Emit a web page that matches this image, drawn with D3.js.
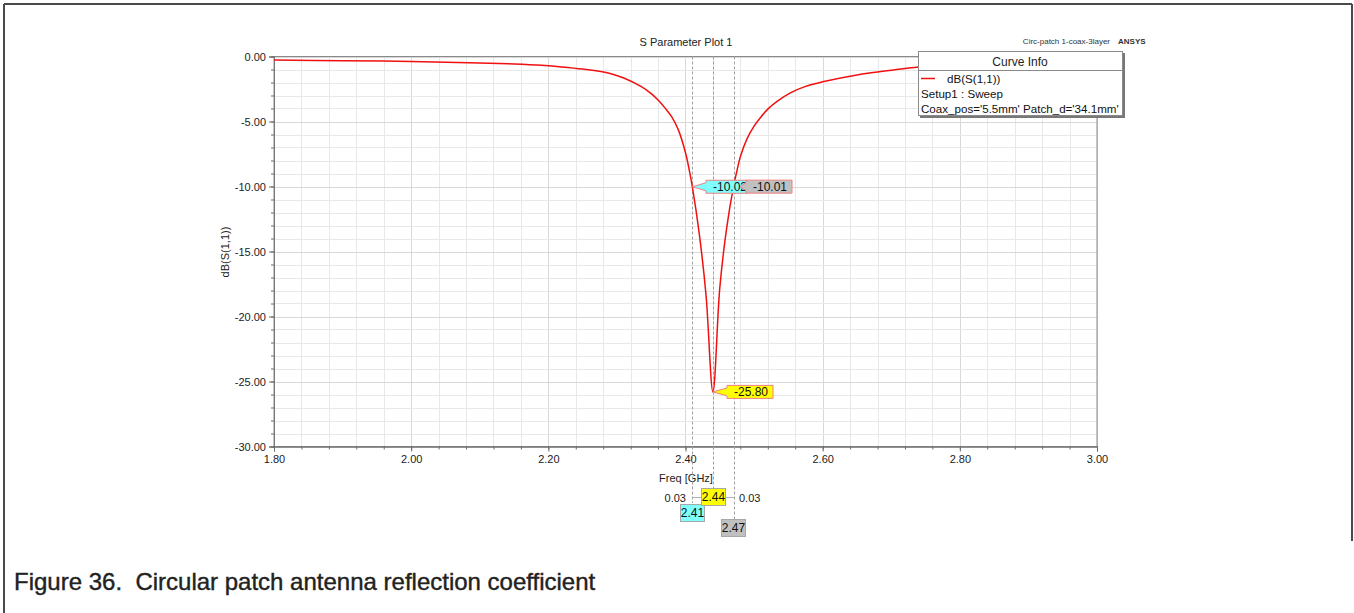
<!DOCTYPE html>
<html>
<head>
<meta charset="utf-8">
<script src="https://cdn.jsdelivr.net/npm/d3@7"></script>
<style>
html,body{margin:0;padding:0;background:#fff;}
svg{display:block;font-family:"Liberation Sans",Arial,sans-serif;}
</style>
</head>
<body>
<svg id="chart" width="1354" height="613"></svg>
<script>
// ---- data ----
const freq = [1.80,1.90,2.00,2.10,2.15,2.19,2.22,2.25,2.29,2.31,2.335,2.35,2.36,2.37,2.38,2.39,2.40,2.405,2.41,2.42,2.43,2.44,2.45,2.46,2.47,2.475,2.48,2.49,2.50,2.51,2.52,2.535,2.553,2.575,2.60,2.65,2.70,2.74,2.80,2.90,3.00];
const s11dB = [-0.27,-0.32,-0.38,-0.50,-0.58,-0.68,-0.80,-0.97,-1.30,-1.65,-2.30,-2.85,-3.35,-3.95,-4.65,-5.70,-7.40,-8.60,-10.02,-13.6,-18.4,-25.80,-17.8,-13.2,-10.01,-8.8,-7.7,-6.3,-5.35,-4.65,-4.05,-3.40,-2.80,-2.30,-1.95,-1.42,-1.05,-0.80,-0.62,-0.50,-0.42];
const xMajorTicks = [1.80,2.00,2.20,2.40,2.60,2.80,3.00];
const yMajorTicks = [0,-5,-10,-15,-20,-25,-30];
const markerFreq = [2.41,2.44,2.47];
const markerVal = [-10.02,-25.80,-10.01];
const markerColors = ["#80ffff","#ffff00","#c0c0c0"];
const deltaLabels = ["0.03","0.03"];
const legendLines = ["dB(S(1,1))","Setup1 : Sweep","Coax_pos='5.5mm' Patch_d='34.1mm'"];

const svg = d3.select("#chart");
const L = 274, R = 1097, T = 56.5, B = 446.5;
const x = d3.scaleLinear().domain([1.8,3.0]).range([L,R]);
const y = d3.scaleLinear().domain([-30,0]).range([B,T]);

// outer frame
svg.append("line").attr("x1",4).attr("x2",4).attr("y1",4).attr("y2",613).attr("stroke","#4a4a4a").attr("stroke-width",2);
svg.append("line").attr("x1",4).attr("x2",1352).attr("y1",4).attr("y2",4).attr("stroke","#4a4a4a").attr("stroke-width",2);
svg.append("line").attr("x1",1352).attr("x2",1352).attr("y1",4).attr("y2",541).attr("stroke","#4a4a4a").attr("stroke-width",2);

// grid
const xMinor = d3.range(0,31).map(i=>1.8+i*0.04);
const yMinor = d3.range(0,31).map(i=>-i);
const g = svg.append("g");
g.selectAll(".vx").data(xMinor).join("line")
  .attr("x1",d=>Math.round(x(d))+0.5).attr("x2",d=>Math.round(x(d))+0.5).attr("y1",T).attr("y2",B)
  .attr("stroke",(d,i)=> i%5===0 ? "#d8d8d8" : "#e8e8e8").attr("stroke-width",1);
g.selectAll(".hy").data(yMinor).join("line")
  .attr("y1",d=>Math.round(y(d))+0.5).attr("y2",d=>Math.round(y(d))+0.5).attr("x1",L).attr("x2",R)
  .attr("stroke",(d,i)=> i%5===0 ? "#d8d8d8" : "#e8e8e8").attr("stroke-width",1);

// plot border
svg.append("rect").attr("x",L).attr("y",T).attr("width",R-L).attr("height",B-T)
  .attr("fill","none").attr("stroke","#8a8a8a").attr("stroke-width",1);

// axes
const fmt = d => d.toFixed(2);
const yAx = svg.append("g").attr("transform",`translate(${L},0)`)
  .call(d3.axisLeft(y).tickValues(yMajorTicks).tickFormat(fmt).tickSize(5).tickPadding(3));
const yAxMinor = svg.append("g").attr("transform",`translate(${L},0)`)
  .call(d3.axisLeft(y).tickValues(yMinor).tickFormat("").tickSize(3));
const xAx = svg.append("g").attr("transform",`translate(0,${B})`)
  .call(d3.axisBottom(x).tickValues(xMajorTicks).tickFormat(fmt).tickSize(5).tickPadding(4));
const xAxMinor = svg.append("g").attr("transform",`translate(0,${B})`)
  .call(d3.axisBottom(x).tickValues(xMinor).tickFormat("").tickSize(3));
[yAx,yAxMinor,xAx,xAxMinor].forEach(a=>{
  a.select(".domain").attr("stroke","#7a7a7a");
  a.selectAll(".tick line").attr("stroke","#6a6a6a");
  a.selectAll("text").attr("font-size","11px").attr("fill","#222").attr("font-family","'Liberation Sans',Arial,sans-serif");
});

// titles
svg.append("text").attr("x",686).attr("y",46).attr("text-anchor","middle").attr("font-size","11px").attr("fill","#222").text("S Parameter Plot 1");
svg.append("text").attr("x",1110).attr("y",44).attr("text-anchor","end").attr("font-size","8px").attr("fill","#333").text("Circ-patch 1-coax-3layer");
svg.append("text").attr("x",1118).attr("y",44).attr("font-size","8px").attr("font-weight","bold").attr("fill","#333").text("ANSYS");
svg.append("text").attr("x",686).attr("y",482).attr("text-anchor","middle").attr("font-size","11px").attr("fill","#222").text("Freq [GHz]");
svg.append("text").attr("transform","translate(229,252) rotate(-90)").attr("text-anchor","middle").attr("font-size","11px").attr("fill","#222").text("dB(S(1,1))");

// marker dashed lines
const dropTo = [503, 488, 519];
svg.selectAll(".mk").data(markerFreq).join("line")
  .attr("x1",d=>Math.round(x(d))+0.5).attr("x2",d=>Math.round(x(d))+0.5)
  .attr("y1",T).attr("y2",(d,i)=>dropTo[i])
  .attr("stroke","#a0a0a0").attr("stroke-width",1).attr("stroke-dasharray","3,2");

// curve
const line = d3.line().x((d,i)=>x(freq[i])).y(d=>y(d)).curve(d3.curveCatmullRom.alpha(0.5));
svg.append("path").datum(s11dB).attr("d",line).attr("fill","none").attr("stroke","#f01010").attr("stroke-width",1.5);

// marker value flags
function flag(tx,ty,bx,w){
  const h=6.5;
  const pts=[[tx,ty],[bx,ty-4],[bx,ty-h],[bx+w,ty-h],[bx+w,ty+h],[bx,ty+h],[bx,ty+4]];
  return "M"+pts.map(p=>p.join(",")).join("L")+"Z";
}
const flagBox = [[706,41],[727,46],[746,46]];
const flagOrder = [0,2,1];
flagOrder.forEach(i=>{
  const tx = x(markerFreq[i]), ty = y(markerVal[i]);
  const tipX = i===2 ? 740 : tx;
  svg.append("path").attr("d",flag(tipX,ty,flagBox[i][0],flagBox[i][1]))
    .attr("fill",markerColors[i]).attr("stroke","#f08080").attr("stroke-width",1);
  svg.append("text").attr("x",flagBox[i][0]+7).attr("y",ty+4).attr("font-size","12px").attr("fill","#111").text(markerVal[i].toFixed(2));
});

// bottom marker frequency boxes
const boxPos = [[680,504],[701,488],[721,519]];
markerFreq.forEach((f,i)=>{
  svg.append("rect").attr("x",boxPos[i][0]+0.5).attr("y",boxPos[i][1]+0.5).attr("width",24).attr("height",17)
    .attr("fill",markerColors[i]).attr("stroke","#a8a8a8");
  svg.append("text").attr("x",boxPos[i][0]+12.5).attr("y",boxPos[i][1]+13).attr("text-anchor","middle").attr("font-size","12px").attr("fill","#111").text(f.toFixed(2));
});
// delta connectors & labels
svg.append("line").attr("x1",Math.round(x(markerFreq[0]))+0.5).attr("x2",701).attr("y1",497.5).attr("y2",497.5).attr("stroke","#b0b0b0");
svg.append("line").attr("x1",725).attr("x2",Math.round(x(markerFreq[2]))+0.5).attr("y1",497.5).attr("y2",497.5).attr("stroke","#b0b0b0");
svg.append("text").attr("x",686).attr("y",502).attr("text-anchor","end").attr("font-size","11px").attr("fill","#222").text(deltaLabels[0]);
svg.append("text").attr("x",739).attr("y",502).attr("font-size","11px").attr("fill","#222").text(deltaLabels[1]);

// legend
const lg = svg.append("g");
lg.append("rect").attr("x",920).attr("y",53).attr("width",205).attr("height",65).attr("fill","#777");
lg.append("rect").attr("x",918.5).attr("y",51.5).attr("width",204).attr("height",64).attr("fill","#fff").attr("stroke","#8a8a8a");
lg.append("line").attr("x1",918.5).attr("x2",1122.5).attr("y1",70.5).attr("y2",70.5).attr("stroke","#8a8a8a");
lg.append("text").attr("x",1020).attr("y",66).attr("text-anchor","middle").attr("font-size","12px").attr("fill","#222").text("Curve Info");
lg.append("line").attr("x1",921).attr("x2",935).attr("y1",78.5).attr("y2",78.5).attr("stroke","#f01010").attr("stroke-width",1.5);
lg.append("text").attr("x",947).attr("y",83).attr("font-size","11.6px").attr("fill","#111").text(legendLines[0]);
lg.append("text").attr("x",921).attr("y",98).attr("font-size","11.6px").attr("fill","#111").text(legendLines[1]);
lg.append("text").attr("x",921).attr("y",113).attr("font-size","11.6px").attr("fill","#111").text(legendLines[2]);

// caption
svg.append("text").attr("x",14).attr("y",590).attr("font-size","24px").attr("fill","#222")
  .attr("stroke","#222").attr("stroke-width",0.4)
  .attr("font-family","'Liberation Sans',Arial,sans-serif").style("white-space","pre")
  .text("Figure 36.  Circular patch antenna reflection coefficient");
</script>
</body>
</html>
